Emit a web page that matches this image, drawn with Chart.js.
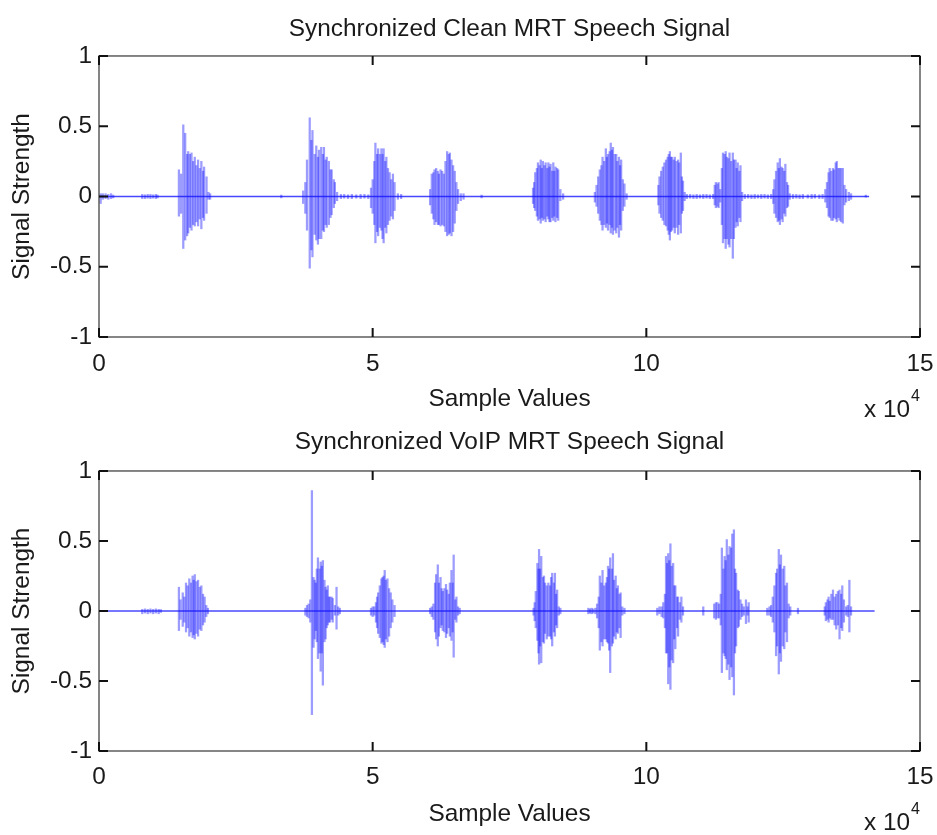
<!DOCTYPE html>
<html><head><meta charset="utf-8">
<script src="https://cdn.jsdelivr.net/npm/chart.js@4.4.1/dist/chart.umd.min.js"></script>
<style>
html,body{margin:0;padding:0;background:#fff;}
body{width:937px;height:835px;position:relative;overflow:hidden;}
canvas{position:absolute;left:0;}
#c1{top:0;}
#c2{top:410px;}
</style></head><body>
<canvas id="c1" width="937" height="425" style="width:937px;height:425px"></canvas>
<canvas id="c2" width="937" height="425" style="width:937px;height:425px"></canvas>
<script>
// ---------------- data (x in units of 10^4 samples) ----------------
const chartTitles = ['Synchronized Clean MRT Speech Signal', 'Synchronized VoIP MRT Speech Signal'];
const xAxisTitle = 'Sample Values';
const yAxisTitle = 'Signal Strength';
const xTickValues = [0, 5, 10, 15];
const xTickLabels = ['0', '5', '10', '15'];
const yTickValues = [-1, -0.5, 0, 0.5, 1];
const yTickLabels = ['-1', '-0.5', '0', '0.5', '1'];
const xExponentLabel = ['x 10', '4'];

// signal extent along the x axis (zero line)
const cleanExtent = [0, 14.07];
const voipExtent = [0, 14.17];

// [x, min, max] per waveform column
const cleanSignal = [
[0.03,-0.05,0.02],[0.07,-0.02,0.02],[0.12,-0.015,0.02],[0.17,-0.02,0.015],[0.22,-0.015,0.02],[0.26,-0.01,0.01],
[0.79,-0.015,0.015],[0.84,-0.015,0.012],[0.89,-0.012,0.015],[0.94,-0.015,0.015],[0.99,-0.012,0.012],[1.04,-0.015,0.015],[1.07,-0.01,0.01],
[1.46,-0.14,0.19],[1.50,-0.12,0.16],[1.54,-0.37,0.51],[1.575,-0.31,0.45],[1.61,-0.28,0.30],[1.63,-0.26,0.32],[1.66,-0.22,0.30],[1.69,-0.24,0.31],[1.72,-0.20,0.25],[1.75,-0.21,0.28],[1.78,-0.18,0.22],[1.81,-0.21,0.26],[1.84,-0.16,0.20],[1.87,-0.23,0.25],[1.90,-0.15,0.18],[1.92,-0.17,0.21],[1.965,-0.12,0.14],[2.00,-0.02,0.03],[2.03,-0.02,0.02],
[3.33,-0.01,0.01],
[3.73,-0.05,0.04],[3.77,-0.12,0.10],[3.80,-0.24,0.26],[3.85,-0.51,0.56],[3.88,-0.38,0.40],[3.90,-0.43,0.47],[3.94,-0.27,0.30],[3.97,-0.31,0.36],[4.00,-0.34,0.28],[4.02,-0.30,0.33],[4.06,-0.30,0.35],[4.09,-0.24,0.30],[4.11,-0.25,0.35],[4.14,-0.20,0.26],[4.16,-0.22,0.28],[4.20,-0.20,0.25],[4.23,-0.15,0.19],[4.25,-0.13,0.19],[4.29,-0.08,0.12],[4.31,-0.05,0.10],[4.35,-0.03,0.03],
[4.42,-0.015,0.015],[4.48,-0.012,0.015],[4.55,-0.015,0.012],[4.62,-0.015,0.015],[4.70,-0.012,0.012],[4.78,-0.015,0.015],[4.85,-0.012,0.015],[4.92,-0.015,0.012],
[4.97,-0.08,0.06],[5.00,-0.12,0.12],[5.03,-0.20,0.25],[5.05,-0.33,0.38],[5.08,-0.25,0.30],[5.10,-0.28,0.34],[5.13,-0.22,0.30],[5.16,-0.24,0.34],[5.18,-0.30,0.30],[5.20,-0.33,0.34],[5.23,-0.22,0.25],[5.25,-0.26,0.28],[5.28,-0.20,0.20],[5.31,-0.17,0.17],[5.34,-0.14,0.12],[5.37,-0.16,0.16],[5.40,-0.10,0.10],[5.46,-0.02,0.02],[5.52,-0.015,0.015],
[6.05,-0.06,0.05],[6.08,-0.12,0.16],[6.11,-0.16,0.17],[6.13,-0.20,0.19],[6.16,-0.18,0.20],[6.19,-0.20,0.18],[6.21,-0.20,0.16],[6.24,-0.21,0.19],[6.27,-0.20,0.18],[6.30,-0.21,0.16],[6.33,-0.25,0.25],[6.36,-0.28,0.32],[6.39,-0.27,0.30],[6.41,-0.26,0.31],[6.44,-0.28,0.26],[6.47,-0.25,0.22],[6.50,-0.19,0.18],[6.53,-0.10,0.10],[6.56,-0.05,0.05],[6.61,-0.03,0.02],[6.66,-0.02,0.02],
[6.99,-0.01,0.01],
[7.93,-0.05,0.06],[7.95,-0.08,0.10],[7.97,-0.10,0.17],[8.00,-0.14,0.20],[8.02,-0.17,0.24],[8.05,-0.16,0.22],[8.07,-0.19,0.26],[8.09,-0.15,0.20],[8.11,-0.17,0.25],[8.14,-0.16,0.22],[8.16,-0.18,0.24],[8.19,-0.14,0.20],[8.21,-0.16,0.24],[8.23,-0.18,0.21],[8.25,-0.18,0.23],[8.28,-0.15,0.18],[8.30,-0.17,0.24],[8.32,-0.14,0.18],[8.34,-0.18,0.21],[8.37,-0.15,0.20],[8.39,-0.17,0.19],[8.43,-0.03,0.05],[8.48,-0.02,0.02],
[9.06,-0.04,0.03],[9.09,-0.07,0.08],[9.12,-0.12,0.14],[9.15,-0.17,0.19],[9.18,-0.20,0.22],[9.20,-0.24,0.28],[9.23,-0.20,0.25],[9.26,-0.22,0.34],[9.28,-0.19,0.28],[9.30,-0.24,0.30],[9.33,-0.20,0.32],[9.35,-0.26,0.38],[9.37,-0.22,0.33],[9.39,-0.27,0.35],[9.42,-0.24,0.30],[9.45,-0.26,0.30],[9.47,-0.22,0.25],[9.50,-0.29,0.28],[9.52,-0.20,0.22],[9.54,-0.24,0.26],[9.57,-0.10,0.12],[9.60,-0.07,0.09],[9.64,-0.02,0.02],
[10.22,-0.06,0.08],[10.24,-0.12,0.14],[10.27,-0.15,0.18],[10.30,-0.17,0.21],[10.33,-0.20,0.24],[10.36,-0.21,0.26],[10.39,-0.24,0.28],[10.41,-0.27,0.30],[10.43,-0.31,0.32],[10.45,-0.25,0.28],[10.47,-0.24,0.28],[10.50,-0.22,0.26],[10.52,-0.26,0.28],[10.55,-0.22,0.25],[10.58,-0.27,0.26],[10.60,-0.20,0.24],[10.63,-0.26,0.31],[10.65,-0.12,0.14],[10.67,-0.10,0.11],[10.70,-0.03,0.03],
[10.74,-0.015,0.015],[10.80,-0.012,0.015],[10.86,-0.015,0.012],[10.92,-0.015,0.015],[10.98,-0.012,0.012],[11.04,-0.015,0.015],[11.10,-0.012,0.015],[11.16,-0.015,0.012],[11.22,-0.015,0.015],
[11.25,-0.06,0.08],[11.27,-0.08,0.10],[11.30,-0.07,0.09],[11.32,-0.08,0.10],[11.35,-0.04,0.05],[11.38,-0.20,0.20],[11.40,-0.33,0.31],[11.43,-0.30,0.30],[11.45,-0.37,0.32],[11.47,-0.30,0.28],[11.50,-0.34,0.27],[11.52,-0.36,0.31],[11.55,-0.30,0.25],[11.58,-0.44,0.31],[11.60,-0.30,0.26],[11.63,-0.22,0.26],[11.65,-0.18,0.20],[11.67,-0.21,0.24],[11.70,-0.15,0.18],[11.72,-0.18,0.22],[11.75,-0.03,0.03],
[11.80,-0.015,0.015],[11.86,-0.012,0.015],[11.92,-0.015,0.012],[11.98,-0.015,0.015],[12.04,-0.012,0.012],[12.10,-0.015,0.015],[12.16,-0.012,0.015],[12.22,-0.015,0.012],[12.28,-0.015,0.015],
[12.32,-0.05,0.05],[12.34,-0.12,0.12],[12.37,-0.15,0.18],[12.40,-0.18,0.24],[12.42,-0.17,0.20],[12.44,-0.20,0.27],[12.47,-0.16,0.21],[12.49,-0.18,0.20],[12.52,-0.12,0.18],[12.54,-0.14,0.23],[12.57,-0.08,0.10],[12.59,-0.07,0.08],[12.62,-0.02,0.02],
[12.68,-0.015,0.015],[12.74,-0.012,0.015],[12.80,-0.015,0.012],[12.86,-0.015,0.015],[12.95,-0.012,0.012],[13.02,-0.015,0.015],[13.08,-0.012,0.015],[13.16,-0.015,0.012],[13.22,-0.015,0.015],
[13.27,-0.04,0.05],[13.30,-0.08,0.10],[13.33,-0.14,0.17],[13.35,-0.15,0.20],[13.38,-0.17,0.18],[13.41,-0.17,0.20],[13.43,-0.15,0.19],[13.46,-0.16,0.24],[13.48,-0.18,0.25],[13.51,-0.15,0.20],[13.53,-0.17,0.20],[13.56,-0.18,0.20],[13.59,-0.19,0.20],[13.62,-0.06,0.08],[13.65,-0.04,0.05],[13.70,-0.03,0.03],[13.74,-0.02,0.02],
[14.01,-0.005,0.01]
];

const voipSignal = [
[0.79,-0.02,0.012],[0.84,-0.015,0.015],[0.89,-0.02,0.012],[0.94,-0.015,0.015],[0.99,-0.02,0.012],[1.04,-0.015,0.015],[1.09,-0.02,0.012],[1.13,-0.01,0.01],
[1.46,-0.14,0.17],[1.49,-0.06,0.08],[1.53,-0.11,0.13],[1.56,-0.08,0.10],[1.59,-0.15,0.20],[1.62,-0.12,0.18],[1.65,-0.18,0.23],[1.68,-0.15,0.20],[1.71,-0.19,0.25],[1.73,-0.17,0.22],[1.75,-0.20,0.26],[1.78,-0.16,0.21],[1.81,-0.18,0.22],[1.84,-0.13,0.17],[1.87,-0.14,0.18],[1.90,-0.10,0.12],[1.93,-0.08,0.10],[1.96,-0.04,0.04],[1.99,-0.02,0.02],
[3.77,-0.03,0.02],[3.80,-0.04,0.04],[3.83,-0.05,0.05],[3.86,-0.08,0.08],[3.89,-0.74,0.86],[3.92,-0.26,0.24],[3.94,-0.20,0.22],[3.96,-0.14,0.20],[3.98,-0.22,0.30],[4.00,-0.34,0.38],[4.03,-0.30,0.30],[4.05,-0.43,0.35],[4.07,-0.30,0.32],[4.09,-0.53,0.36],[4.12,-0.22,0.22],[4.14,-0.20,0.17],[4.16,-0.12,0.15],[4.18,-0.10,0.18],[4.20,-0.08,0.10],[4.22,-0.08,0.10],[4.25,-0.06,0.10],[4.27,-0.08,0.09],[4.31,-0.03,0.04],[4.34,-0.13,0.17],[4.37,-0.03,0.03],[4.40,-0.02,0.02],
[4.97,-0.03,0.02],[5.00,-0.04,0.03],[5.03,-0.03,0.03],[5.06,-0.08,0.06],[5.08,-0.12,0.10],[5.10,-0.16,0.13],[5.13,-0.19,0.18],[5.16,-0.23,0.23],[5.18,-0.22,0.24],[5.20,-0.24,0.25],[5.22,-0.26,0.29],[5.24,-0.20,0.22],[5.27,-0.22,0.23],[5.30,-0.18,0.16],[5.33,-0.12,0.13],[5.36,-0.08,0.08],[5.40,-0.04,0.04],
[6.05,-0.02,0.02],[6.08,-0.04,0.03],[6.11,-0.06,0.05],[6.14,-0.15,0.20],[6.16,-0.20,0.26],[6.19,-0.25,0.33],[6.21,-0.18,0.20],[6.24,-0.12,0.24],[6.26,-0.10,0.16],[6.28,-0.14,0.14],[6.31,-0.15,0.16],[6.34,-0.19,0.19],[6.36,-0.16,0.15],[6.39,-0.12,0.12],[6.41,-0.18,0.20],[6.44,-0.21,0.29],[6.46,-0.15,0.20],[6.48,-0.33,0.40],[6.51,-0.06,0.08],[6.53,-0.08,0.10],[6.56,-0.03,0.03],[6.59,-0.02,0.02],
[7.94,-0.03,0.02],[7.96,-0.07,0.06],[7.98,-0.12,0.14],[8.01,-0.21,0.34],[8.03,-0.30,0.30],[8.04,-0.38,0.44],[8.06,-0.25,0.30],[8.08,-0.37,0.39],[8.11,-0.22,0.24],[8.13,-0.23,0.25],[8.15,-0.16,0.20],[8.18,-0.20,0.18],[8.21,-0.18,0.20],[8.24,-0.18,0.18],[8.26,-0.20,0.24],[8.28,-0.25,0.27],[8.31,-0.15,0.20],[8.33,-0.18,0.27],[8.35,-0.10,0.12],[8.37,-0.12,0.15],[8.40,-0.03,0.03],[8.43,-0.02,0.02],
[8.94,-0.02,0.02],[8.97,-0.015,0.015],[9.00,-0.02,0.02],[9.03,-0.015,0.015],[9.07,-0.02,0.02],[9.10,-0.05,0.05],[9.13,-0.12,0.10],[9.15,-0.28,0.25],[9.18,-0.22,0.20],[9.20,-0.25,0.29],[9.23,-0.20,0.18],[9.26,-0.20,0.20],[9.28,-0.22,0.24],[9.30,-0.23,0.32],[9.32,-0.28,0.30],[9.34,-0.44,0.38],[9.37,-0.25,0.30],[9.39,-0.23,0.41],[9.41,-0.18,0.22],[9.44,-0.20,0.25],[9.46,-0.15,0.16],[9.48,-0.16,0.18],[9.51,-0.12,0.12],[9.53,-0.19,0.13],[9.56,-0.03,0.03],[9.60,-0.02,0.02],
[10.20,-0.03,0.02],[10.24,-0.02,0.03],[10.28,-0.04,0.03],[10.31,-0.05,0.06],[10.34,-0.12,0.12],[10.36,-0.30,0.39],[10.38,-0.30,0.34],[10.40,-0.52,0.41],[10.42,-0.40,0.36],[10.44,-0.56,0.48],[10.46,-0.35,0.32],[10.49,-0.37,0.34],[10.51,-0.20,0.18],[10.53,-0.27,0.18],[10.56,-0.12,0.10],[10.58,-0.18,0.10],[10.61,-0.06,0.06],[10.64,-0.08,0.10],[10.67,-0.03,0.03],
[11.04,-0.03,0.03],
[11.24,-0.05,0.05],[11.27,-0.06,0.06],[11.30,-0.05,0.06],[11.33,-0.05,0.05],[11.36,-0.10,0.12],[11.38,-0.44,0.45],[11.41,-0.30,0.30],[11.43,-0.32,0.39],[11.45,-0.34,0.36],[11.47,-0.42,0.51],[11.50,-0.38,0.40],[11.52,-0.49,0.46],[11.55,-0.40,0.45],[11.57,-0.47,0.55],[11.60,-0.60,0.58],[11.62,-0.30,0.30],[11.64,-0.25,0.27],[11.67,-0.12,0.15],[11.69,-0.11,0.14],[11.72,-0.06,0.08],[11.75,-0.04,0.05],[11.78,-0.03,0.03],[11.82,-0.09,0.08],[11.85,-0.03,0.03],[11.87,-0.08,0.06],
[12.21,-0.03,0.02],[12.25,-0.03,0.03],[12.28,-0.04,0.04],[12.31,-0.08,0.10],[12.34,-0.15,0.18],[12.37,-0.32,0.27],[12.39,-0.25,0.30],[12.42,-0.45,0.44],[12.44,-0.30,0.33],[12.46,-0.36,0.40],[12.49,-0.25,0.30],[12.52,-0.27,0.32],[12.54,-0.15,0.18],[12.57,-0.22,0.20],[12.60,-0.05,0.05],[12.63,-0.03,0.03],[12.77,-0.02,0.02],
[13.26,-0.03,0.03],[13.28,-0.07,0.06],[13.31,-0.06,0.08],[13.33,-0.08,0.10],[13.35,-0.05,0.07],[13.38,-0.06,0.12],[13.41,-0.06,0.15],[13.44,-0.10,0.10],[13.47,-0.13,0.12],[13.50,-0.10,0.14],[13.53,-0.20,0.15],[13.56,-0.12,0.12],[13.58,-0.14,0.18],[13.61,-0.08,0.08],[13.65,-0.03,0.03],[13.68,-0.04,0.04],[13.71,-0.15,0.22],[13.74,-0.03,0.03]
];

// ---------------- rendering ----------------
const FONT_FAMILY = "'Liberation Sans', Arial, Helvetica, sans-serif";
const TEXT_COLOR = '#1a1a1a';
const FS = 24.4;

const framePlugin = {
  id: 'matlabFrame',
  afterDatasetsDraw(chart, args, opts) {
    const {ctx, chartArea: {left, right, top, bottom}, scales: {x, y}} = chart;
    ctx.save();
    ctx.strokeStyle = '#444';
    ctx.lineWidth = 1.3;
    ctx.strokeRect(left, top, right - left, bottom - top);
    ctx.strokeStyle = '#111';
    ctx.lineWidth = 2;
    const L = 9;
    ctx.beginPath();
    x.ticks.forEach((t, i) => {
      const px = x.getPixelForTick(i);
      ctx.moveTo(px, bottom); ctx.lineTo(px, bottom - L);
      ctx.moveTo(px, top); ctx.lineTo(px, top + L);
    });
    y.ticks.forEach((t, i) => {
      const py = y.getPixelForTick(i);
      ctx.moveTo(left, py); ctx.lineTo(left + L, py);
      ctx.moveTo(right, py); ctx.lineTo(right - L, py);
    });
    ctx.stroke();
    // exponent label "x 10^4"
    ctx.fillStyle = TEXT_COLOR;
    ctx.textBaseline = 'middle';
    ctx.textAlign = 'left';
    ctx.font = FS + 'px ' + FONT_FAMILY;
    ctx.fillText(xExponentLabel[0], opts.expX, opts.expY);
    const w = ctx.measureText(xExponentLabel[0]).width;
    ctx.font = '16px ' + FONT_FAMILY;
    ctx.fillText(xExponentLabel[1], opts.expX + w + 1, opts.expY - 13);
    ctx.restore();
  }
};

function makeChart(id, title, samples, extent, g) {
  const font = {family: FONT_FAMILY, size: FS};
  const bars = samples.map(s => ({x: s[0], y: [s[1], s[2]]}));
  return new Chart(document.getElementById(id), {
    type: 'bar',
    data: {
      datasets: [
        {
          type: 'bar',
          data: bars,
          backgroundColor: 'rgba(20,20,255,0.42)',
          borderWidth: 0,
          barThickness: 1.6,
          grouped: false,
          order: 1
        },
        {
          type: 'line',
          data: extent.map(v => ({x: v, y: 0})),
          borderColor: 'rgba(40,40,255,0.85)',
          borderWidth: 1.5,
          pointRadius: 0,
          order: 2
        }
      ]
    },
    options: {
      responsive: false,
      animation: false,
      devicePixelRatio: 1,
      events: [],
      layout: {padding: {left: 0, right: 17, top: 0, bottom: 0}},
      plugins: {
        legend: {display: false},
        tooltip: {enabled: false},
        title: {
          display: true, text: title, color: TEXT_COLOR, fullSize: false,
          font: {family: FONT_FAMILY, size: FS, weight: 'normal'},
          padding: {top: g.titleTop, bottom: g.titleBottom}
        },
        matlabFrame: {expX: 864, expY: g.expY}
      },
      scales: {
        x: {
          type: 'linear', min: 0, max: 15, offset: false,
          afterBuildTicks: s => { s.ticks = xTickValues.map(v => ({value: v})); },
          ticks: {
            callback: (v) => xTickLabels[xTickValues.indexOf(v)],
            font, color: TEXT_COLOR, padding: g.xTickPad, maxRotation: 0, autoSkip: false
          },
          grid: {display: false, drawTicks: false, offset: false},
          border: {display: false},
          title: {display: true, text: xAxisTitle, font, color: TEXT_COLOR, padding: {top: 0, bottom: g.xTitleBottom}},
          afterFit: s => { s.height = g.xHeight; s.paddingLeft = 0; s.paddingRight = 0; }
        },
        y: {
          type: 'linear', min: -1, max: 1,
          afterBuildTicks: s => { s.ticks = yTickValues.map(v => ({value: v})); },
          ticks: {
            callback: (v) => yTickLabels[yTickValues.indexOf(v)],
            font, color: TEXT_COLOR, padding: 7, autoSkip: false
          },
          grid: {display: false, drawTicks: false},
          border: {display: false},
          title: {display: true, text: yAxisTitle, font, color: TEXT_COLOR, padding: {top: 7.4, bottom: 0}},
          afterFit: s => { s.width = 99; s.paddingTop = 0; s.paddingBottom = 0; }
        }
      }
    },
    plugins: [framePlugin]
  });
}

makeChart('c1', chartTitles[0], cleanSignal, cleanExtent,
  {titleTop: 15, titleBottom: 11.7, xTickPad: 13, xTitleBottom: 11.4, xHeight: 88, expY: 410});
makeChart('c2', chartTitles[1], voipSignal, voipExtent,
  {titleTop: 17.4, titleBottom: 14.3, xTickPad: 12, xTitleBottom: 6.4, xHeight: 84, expY: 413});
</script>
</body></html>
